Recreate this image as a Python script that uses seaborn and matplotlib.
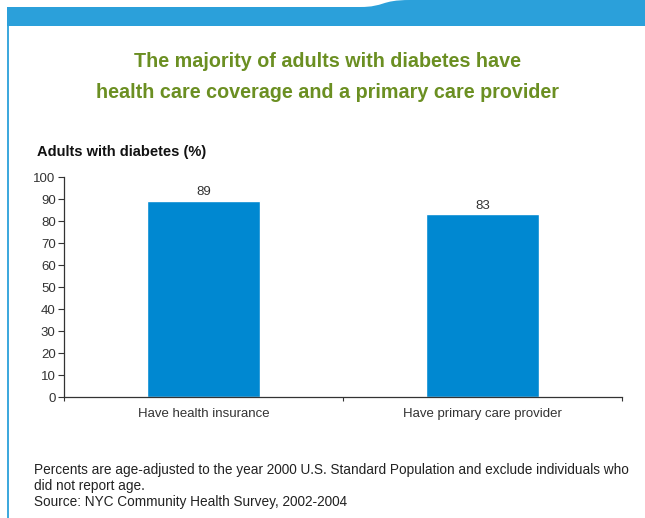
import numpy as np
import pandas as pd
import seaborn as sns
import matplotlib.pyplot as plt
from matplotlib.path import Path
from matplotlib.patches import PathPatch
from matplotlib.lines import Line2D

categories = ['Have health insurance', 'Have primary care provider']
values = [89, 83]
yticks = list(range(0, 101, 10))

title = 'The majority of adults with diabetes have\nhealth care coverage and a primary care provider'
ylabel = 'Adults with diabetes (%)'
footnote = ('Percents are age-adjusted to the year 2000 U.S. Standard Population and exclude individuals who\n'
            'did not report age.\n'
            'Source: NYC Community Health Survey, 2002-2004')

sns.set_theme(style='white')
plt.rcParams['font.family'] = ['Liberation Sans', 'DejaVu Sans']

W, H = 645, 518
fig = plt.figure(figsize=(W / 100, H / 100), dpi=100)


def fx(x):
    return x / W


def fy(y):
    return 1 - y / H


# blue banner with the tab on the right
blue = '#2ba0da'
verts = [(fx(7), fy(26)), (fx(7), fy(7)), (fx(360), fy(7)),
         (fx(385), fy(7)), (fx(380), fy(0)), (fx(410), fy(0)),
         (fx(645), fy(0)), (fx(645), fy(26)), (fx(7), fy(26))]
codes = [Path.MOVETO, Path.LINETO, Path.LINETO,
         Path.CURVE4, Path.CURVE4, Path.CURVE4,
         Path.LINETO, Path.LINETO, Path.CLOSEPOLY]
fig.patches.append(PathPatch(Path(verts, codes), facecolor=blue, edgecolor='none',
                             transform=fig.transFigure, figure=fig))
fig.lines.append(Line2D([fx(7.5), fx(7.5)], [0, fy(26)], color=blue, lw=1.3,
                        transform=fig.transFigure, figure=fig))

ax = fig.add_axes([fx(64), fy(397), fx(622) - fx(64), fy(177) - fy(397)])
df = pd.DataFrame({'category': categories, 'value': values})
sns.barplot(data=df, x='category', y='value', color='#0088d1', saturation=1,
            width=0.405, ax=ax)

ax.set_xlim(-0.5, 1.5)
ax.set_ylim(0, 100)
ax.set_yticks(yticks)
ax.set_yticklabels([str(t) for t in yticks], fontsize=9.5, color='#333333')
ax.set_xticks([-0.5, 0.5, 1.5], minor=False)
ax.set_xticklabels([])
ax.set_xticks([0, 1], minor=True)
ax.set_xticklabels(categories, minor=True, fontsize=9.5, color='#333333')
ax.tick_params(axis='x', which='major', direction='out', length=3, width=0.8,
               color='#333333', bottom=True)
ax.tick_params(axis='x', which='minor', length=0, pad=8, bottom=True)
ax.tick_params(axis='y', direction='out', length=4, width=0.8, color='#333333',
               left=True, pad=2)
ax.set_xlabel('')
ax.set_ylabel('')
sns.despine(ax=ax)
for s in ['left', 'bottom']:
    ax.spines[s].set_color('#333333')
    ax.spines[s].set_linewidth(0.9)

for i, v in enumerate(values):
    ax.annotate(str(v), (i, v), xytext=(0, 2), textcoords='offset points',
                ha='center', va='bottom', fontsize=9.5, color='#333333')

fig.text(fx(328), fy(77), title, ha='center', va='center', fontsize=14.2,
         fontweight='bold', color='#6b8f22', linespacing=1.85)
fig.text(fx(37), fy(152), ylabel, ha='left', va='center', fontsize=10.5,
         fontweight='bold', color='#111111')
fig.text(fx(34), fy(486), footnote, ha='left', va='center', fontsize=9.8,
         color='#222222', linespacing=1.17)

fig.savefig('out.png', dpi=100)
